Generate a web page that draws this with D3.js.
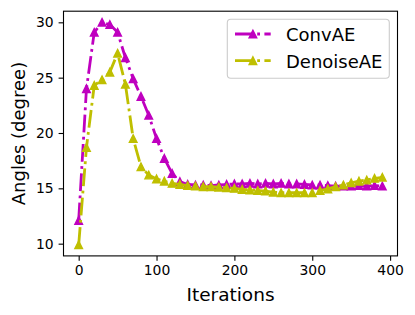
<!DOCTYPE html>
<html>
<head>
<meta charset="utf-8">
<script src="https://cdn.jsdelivr.net/npm/d3@7"></script>
<style>
    html, body { margin: 0; padding: 0; background: #fff; }
    svg { display: block; font-family: "DejaVu Sans", sans-serif; }
</style>
</head>
<body>
<svg id="chart"></svg>
<script>
// chart data
var iterations = [0, 10, 20, 30, 40, 50, 60, 70, 80, 90,
    100, 110, 120, 130, 140, 150, 160, 170, 180, 190,
    200, 210, 220, 230, 240, 250, 260, 270, 280, 290,
    300, 310, 320, 330, 340, 350, 360, 370, 380, 390];
var convAE = [12.1, 24.0, 29.1, 30.0, 29.8, 29.1, 26.8, 24.9, 23.3, 21.6,
    19.5, 17.7, 16.35, 15.6, 15.35, 15.3, 15.3, 15.25, 15.3, 15.35,
    15.4, 15.4, 15.45, 15.4, 15.45, 15.4, 15.45, 15.4, 15.4, 15.35,
    15.3, 15.3, 15.25, 15.2, 15.2, 15.2, 15.25, 15.2, 15.25, 15.2];
var denoiseAE = [9.9, 18.7, 24.3, 24.8, 25.5, 27.2, 24.4, 19.5, 16.95, 16.2,
    15.85, 15.65, 15.45, 15.35, 15.25, 15.2, 15.15, 15.15, 15.1, 15.05,
    15.0, 14.9, 14.85, 14.8, 14.75, 14.65, 14.6, 14.6, 14.6, 14.6,
    14.6, 14.8, 14.95, 15.15, 15.3, 15.5, 15.65, 15.75, 15.9, 16.0];
var xTicks = [0, 100, 200, 300, 400];
var yTicks = [10, 15, 20, 25, 30];
var seriesNames = ['ConvAE', 'DenoiseAE'];

(function () {
    var width = 415, height = 315;
    var box = { left: 63.5, right: 397.5, top: 11.2, bottom: 255.9 };
    var colors = ['#bf00bf', '#bfbf00'];
    var dash = '17.8,4.4,2.8,4.4';

    var svg = d3.select('#chart')
        .attr('width', width)
        .attr('height', height);

    // matplotlib style autoscale: 5% margin on each side
    var xExt = d3.extent(iterations), xPad = (xExt[1] - xExt[0]) * 0.05;
    var yExt = d3.extent(convAE.concat(denoiseAE)), yPad = (yExt[1] - yExt[0]) * 0.05;

    var x = d3.scaleLinear()
        .domain([xExt[0] - xPad, xExt[1] + xPad])
        .range([box.left, box.right]);
    var y = d3.scaleLinear()
        .domain([yExt[0] - yPad, yExt[1] + yPad])
        .range([box.bottom, box.top]);

    var series = [convAE, denoiseAE].map(function (vals, k) {
        return {
            name: seriesNames[k],
            color: colors[k],
            points: vals.map(function (v, i) { return { x: iterations[i], y: v }; })
        };
    });

    var line = d3.line()
        .x(function (d) { return x(d.x); })
        .y(function (d) { return y(d.y); });

    // upward triangle centred on its bounding box
    function triangle(cx, cy) {
        var s = 7.6 / 2;
        return 'M' + cx + ',' + (cy - s) + 'L' + (cx - s) + ',' + (cy + s) + 'L' + (cx + s) + ',' + (cy + s) + 'Z';
    }

    // lines and markers
    var g = svg.selectAll('.series')
        .data(series)
        .enter().append('g')
            .attr('class', 'series');

    g.append('path')
        .attr('fill', 'none')
        .attr('stroke', function (d) { return d.color; })
        .attr('stroke-width', 2.8)
        .attr('stroke-dasharray', dash)
        .attr('d', function (d) { return line(d.points); });

    g.selectAll('.mark')
        .data(function (d) { return d.points.map(function (p) { return { p: p, color: d.color }; }); })
        .enter().append('path')
            .attr('class', 'mark')
            .attr('fill', function (d) { return d.color; })
            .attr('stroke', function (d) { return d.color; })
            .attr('stroke-width', 1.4)
            .attr('d', function (d) { return triangle(x(d.p.x), y(d.p.y)); });

    // axes
    var xAxis = svg.append('g')
        .attr('transform', 'translate(0,' + box.bottom + ')')
        .call(d3.axisBottom(x).tickValues(xTicks).tickSize(4.9).tickPadding(4.2).tickSizeOuter(0));
    var yAxis = svg.append('g')
        .attr('transform', 'translate(' + box.left + ',0)')
        .call(d3.axisLeft(y).tickValues(yTicks).tickSize(4.9).tickPadding(4.9).tickSizeOuter(0));

    [xAxis, yAxis].forEach(function (a) {
        a.select('.domain').remove();
        a.selectAll('line').attr('stroke', '#000').attr('stroke-width', 1.1);
        a.selectAll('text').attr('fill', '#000').style('font-size', '13.9px').style('font-family', '"DejaVu Sans", sans-serif');
    });

    // frame
    svg.append('rect')
        .attr('x', box.left)
        .attr('y', box.top)
        .attr('width', box.right - box.left)
        .attr('height', box.bottom - box.top)
        .attr('fill', 'none')
        .attr('stroke', '#000')
        .attr('stroke-width', 1.1);

    // axis labels
    svg.append('text')
        .attr('x', (box.left + box.right) / 2)
        .attr('y', 301)
        .attr('text-anchor', 'middle')
        .style('font-size', '18.5px')
        .text('Iterations');

    svg.append('text')
        .attr('transform', 'translate(24.8,' + (box.top + box.bottom) / 2 + ') rotate(-90)')
        .attr('text-anchor', 'middle')
        .style('font-size', '18px')
        .text('Angles (degree)');

    // legend
    var legend = svg.append('g');
    legend.append('rect')
        .attr('x', 227.3)
        .attr('y', 19.3)
        .attr('width', 162)
        .attr('height', 59)
        .attr('rx', 3.5)
        .attr('fill', '#fff')
        .attr('fill-opacity', 0.8)
        .attr('stroke', '#cccccc')
        .attr('stroke-width', 1.1);

    var rows = legend.selectAll('.row')
        .data(series)
        .enter().append('g')
            .attr('class', 'row')
            .attr('transform', function (d, i) { return 'translate(0,' + (34 + i * 26.7) + ')'; });

    rows.append('line')
        .attr('x1', 235).attr('x2', 270.7)
        .attr('stroke', function (d) { return d.color; })
        .attr('stroke-width', 2.8)
        .attr('stroke-dasharray', dash);

    rows.append('path')
        .attr('fill', function (d) { return d.color; })
        .attr('stroke', function (d) { return d.color; })
        .attr('stroke-width', 1.4)
        .attr('d', triangle(252.9, 0));

    rows.append('text')
        .attr('x', 286)
        .attr('y', 6.8)
        .style('font-size', '18px')
        .text(function (d) { return d.name; });
}());
</script>
</body>
</html>
